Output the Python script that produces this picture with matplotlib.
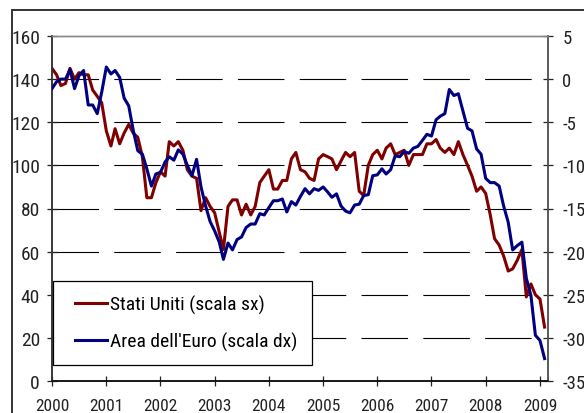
import numpy as np
import pandas as pd
import matplotlib
matplotlib.use('Agg')
import matplotlib.pyplot as plt
import matplotlib.dates as mdates
from matplotlib import font_manager as fm
from matplotlib.legend_handler import HandlerLine2D

# monthly data, Jan 2000 - Feb 2009
months = pd.date_range('2000-01-01', periods=110, freq='MS')

# Stati Uniti (left scale)
usa = [145, 142, 137, 138, 145, 140, 143, 142, 142, 135, 132, 129,
       116, 109, 117, 110, 115, 119, 115, 113, 104, 85, 85, 92,
       97, 95, 111, 109, 111, 107, 98, 95, 94, 79, 85, 81,
       78, 69, 61, 81, 84, 84, 77, 82, 77, 81, 92, 95,
       98, 89, 89, 93, 93, 103, 106, 98, 97, 94, 93, 103,
       105, 104, 103, 98, 102, 106, 104, 106, 88, 86, 100, 105,
       107, 103, 108, 110, 105, 106, 107, 100, 105, 105, 105, 110,
       110, 112, 108, 106, 108, 105, 111, 105, 100, 95, 88, 90,
       87, 77, 66, 63, 58, 51, 52, 56, 61, 39, 45, 40, 38, 25]

# Area dell'Euro (right scale)
euro = [-1.1, -0.3, 0.0, 0.0, 1.1, -1.1, 0.4, 1.0, -3.0, -3.0, -4.0, -1.5,
        1.4, 0.6, 1.0, 0.2, -2.2, -3.1, -5.9, -8.3, -8.7, -10.4, -12.4, -11.0,
        -10.8, -9.6, -9.0, -9.4, -8.2, -8.7, -10.0, -11.2, -9.3, -12.5, -14.7, -16.5,
        -17.6, -18.9, -20.9, -19.0, -19.8, -18.6, -18.3, -17.2, -16.8, -16.8, -15.6, -15.75,
        -14.9, -14.1, -14.1, -13.9, -15.4, -14.2, -14.6, -13.6, -12.7, -13.3, -12.7, -12.9,
        -12.5, -13.1, -13.7, -13.3, -14.7, -15.3, -15.5, -14.6, -14.5, -13.5, -13.4, -11.2,
        -11.1, -10.4, -11.0, -10.5, -8.9, -9.0, -8.4, -8.6, -8.0, -7.8, -7.1, -6.4,
        -6.6, -4.7, -4.3, -4.0, -1.2, -1.9, -1.7, -3.7, -5.7, -6.0, -8.1, -8.7,
        -11.5, -12.0, -12.0, -12.4, -14.7, -16.6, -19.8, -19.3, -18.9, -23.1, -25.1, -29.7,
        -30.3, -32.4]

left_ticks = list(range(0, 161, 20))
right_ticks = list(range(-35, 6, 5))
labels = ['Stati Uniti (scala sx)', "Area dell'Euro (scala dx)"]

# narrow font similar to the original
names = set(fm.fontManager.get_font_names())
narrow = next((f for f in ['Liberation Sans Narrow', 'DejaVu Sans Condensed',
                           'Roboto Condensed'] if f in names), 'DejaVu Sans')
plt.rcParams['font.family'] = [narrow, 'DejaVu Sans']
plt.rcParams['axes.unicode_minus'] = False
plt.rcParams['lines.scale_dashes'] = False

W, H = 584, 414
fig = plt.figure(figsize=(W / 100, H / 100), dpi=100)
ax = fig.add_axes([52 / W, 1 - 382 / H, (548 - 52) / W, (382 - 37) / H])
ax2 = ax.twinx()

# dashed gridlines
for v in left_ticks[1:-1]:
    ax.axhline(v, color='black', lw=0.8, dashes=(33.5, 11), zorder=1)

l1, = ax.plot(months, usa, color='#800000', lw=2.2, zorder=3)
l2, = ax2.plot(months, euro, color='#000080', lw=2.2, zorder=3)

ax.set_ylim(0, 160)
ax2.set_ylim(-35, 5)
ax.set_yticks(left_ticks)
ax2.set_yticks(right_ticks)
ax.set_xlim(pd.Timestamp('2000-01-01'), pd.Timestamp('2009-02-24'))
ax.xaxis.set_major_locator(mdates.YearLocator())
ax.xaxis.set_major_formatter(mdates.DateFormatter('%Y'))

ax.tick_params(axis='y', direction='inout', length=6.5, width=0.9,
               labelsize=14, pad=5.4, colors='#222222')
ax.tick_params(axis='x', direction='inout', length=6.5, width=0.9,
               labelsize=12.5, pad=9.0, colors='#222222')
ax2.tick_params(axis='y', direction='inout', length=6.5, width=0.9,
                labelsize=13.5, pad=7.0, colors='#222222')

for a in (ax, ax2):
    a.spines['top'].set_color('#888888')
    a.spines['top'].set_linewidth(1.0)
    a.spines['left'].set_color('#333333')
    a.spines['right'].set_color('#555555')
    a.spines['bottom'].set_color('#111111')
    for s in ('left', 'right', 'bottom'):
        a.spines[s].set_linewidth(1.1)


class ShiftedLine(HandlerLine2D):
    def get_xdata(self, legend, xdescent, ydescent, width, height, fontsize):
        xd, xm = super().get_xdata(legend, xdescent, ydescent, width, height, fontsize)
        return np.asarray(xd) + 5.7, np.asarray(xm) + 5.7


fs = 14.0
leg = ax2.legend([l1, l2], labels, loc='upper left', mode='expand',
                 bbox_to_anchor=(53 / W, 1 - 363 / H, (312 - 53) / W, 81 / H),
                 bbox_transform=fig.transFigure,
                 borderaxespad=0, fontsize=fs, frameon=True, fancybox=False,
                 handlelength=23.0 / fs, handletextpad=7.9 / fs, borderpad=10.1 / fs,
                 labelspacing=0.91,
                 handler_map={l1: ShiftedLine(), l2: ShiftedLine()})
leg.get_frame().set_edgecolor('black')
leg.get_frame().set_linewidth(0.9)
leg.get_frame().set_alpha(1)
leg.set_zorder(10)

# outer frame of the original picture
fig.add_artist(plt.Rectangle((12 / W, -0.05), 1.0, 1 - 11 / H + 0.05,
                             transform=fig.transFigure, fill=False,
                             edgecolor='#333333', lw=1.4))

fig.savefig('out.png', dpi=100)
